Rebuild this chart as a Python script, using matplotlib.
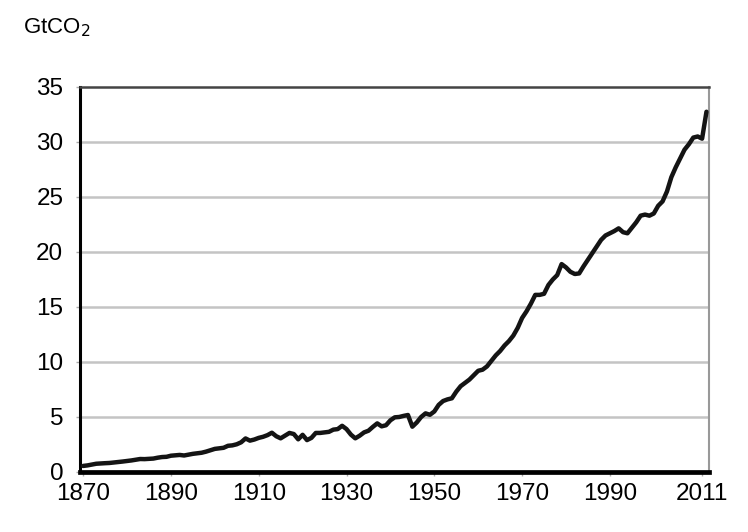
import numpy as np
import matplotlib
matplotlib.use("Agg")
from matplotlib import pyplot as plt

# annual emissions (GtCO2)
years = list(range(1870, 2013))
emissions = [
    0.55, 0.60, 0.68, 0.75, 0.78, 0.80, 0.82, 0.86, 0.90, 0.95,   # 1870s
    1.00, 1.05, 1.12, 1.18, 1.17, 1.20, 1.22, 1.30, 1.36, 1.38,   # 1880s
    1.48, 1.52, 1.55, 1.50, 1.58, 1.65, 1.70, 1.75, 1.85, 1.98,   # 1890s
    2.10, 2.15, 2.20, 2.38, 2.42, 2.52, 2.70, 3.05, 2.85, 2.95,   # 1900s
    3.10, 3.20, 3.35, 3.57, 3.25, 3.06, 3.30, 3.55, 3.45, 2.97,   # 1910s
    3.38, 2.90, 3.10, 3.55, 3.55, 3.60, 3.65, 3.85, 3.90, 4.20,   # 1920s
    3.90, 3.40, 3.06, 3.30, 3.60, 3.75, 4.10, 4.42, 4.15, 4.25,   # 1930s
    4.70, 4.97, 5.00, 5.10, 5.18, 4.12, 4.50, 5.00, 5.33, 5.20,   # 1940s
    5.50, 6.10, 6.45, 6.60, 6.70, 7.30, 7.80, 8.10, 8.40, 8.80,   # 1950s
    9.20, 9.30, 9.60, 10.1, 10.6, 11.0, 11.5, 11.9, 12.4, 13.1,   # 1960s
    14.0, 14.6, 15.3, 16.1, 16.1, 16.2, 17.0, 17.5, 17.9, 18.9,   # 1970s
    18.6, 18.2, 18.0, 18.05, 18.7, 19.3, 19.9, 20.5, 21.1, 21.5,  # 1980s
    21.7, 21.9, 22.15, 21.8, 21.7, 22.2, 22.7, 23.3, 23.4, 23.3,  # 1990s
    23.5, 24.2, 24.6, 25.5, 26.8, 27.7, 28.5, 29.3, 29.8, 30.4,   # 2000s
    30.5, 30.3, 32.75,
]
xticks = [1870, 1890, 1910, 1930, 1950, 1970, 1990, 2011]
yticks = [0, 5, 10, 15, 20, 25, 30, 35]

plt.rcParams['font.family'] = ['Liberation Sans', 'DejaVu Sans']

fig = plt.figure(figsize=(7.48, 5.32), dpi=100)
ax = fig.add_axes([0.107, 0.1128, 0.841, 0.7237])

for y in yticks[1:-1]:
    ax.axhline(y, color="#c4c4c4", lw=1.8, zorder=1)

ax.plot(years, emissions, color="#141414", lw=3.2, zorder=3,
        solid_joinstyle="round", solid_capstyle="round")

ax.set_xlim(1869.3, 2012.6)
ax.set_ylim(0, 35)
ax.set_xticks(xticks)
ax.set_yticks(yticks)

ax.spines["left"].set_color("#000000")
ax.spines["left"].set_linewidth(2.2)
ax.spines["bottom"].set_color("#000000")
ax.spines["bottom"].set_linewidth(3.4)
ax.spines["top"].set_color("#444444")
ax.spines["top"].set_linewidth(1.8)
ax.spines["right"].set_color("#999999")
ax.spines["right"].set_linewidth(1.5)

ax.tick_params(axis="both", labelsize=17.5, colors="#aaaaaa", labelcolor="#000000",
               length=3, width=1)
ax.tick_params(axis="y", pad=9)
ax.tick_params(axis="x", pad=5)

fig.text(0.031, 0.947, "GtCO$_2$", fontsize=16, color="#000000",
         ha="left", va="center")

plt.savefig("out.png", dpi=100)
